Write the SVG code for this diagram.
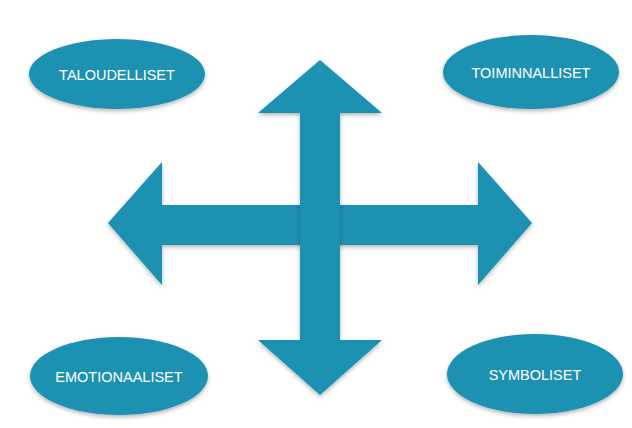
<svg xmlns="http://www.w3.org/2000/svg" width="632" height="428" viewBox="0 0 632 428">
<defs>
<filter id="sh" x="-10%" y="-10%" width="120%" height="130%">
<feDropShadow dx="0" dy="2" stdDeviation="2" flood-color="#000" flood-opacity="0.3"/>
</filter>
<style>
.shape{fill:#1a91b1;filter:url(#sh)}
.lbl{fill:#ffffff;font-family:"Liberation Sans",Arial,sans-serif;font-size:14.5px;text-anchor:middle;dominant-baseline:central}
</style>
</defs>
<rect width="632" height="428" fill="#ffffff"/>
<g id="connectors">
<polygon class="shape" points="108,223 162,162 162,205 478,205 478,162 532,223 478,285 478,245 162,245 162,285"/>
<polygon class="shape" points="320,60 382,113 340,113 340,340 382,340 320,395 258,340 300,340 300,113 258,113"/>
</g>
<g id="taloudelliset">
<ellipse class="shape" cx="117" cy="74" rx="88" ry="35"/>
<text class="lbl" x="117" y="75">TALOUDELLISET</text>
</g>
<g id="toiminnalliset">
<ellipse class="shape" cx="531" cy="72" rx="88" ry="37"/>
<text class="lbl" x="531" y="73">TOIMINNALLISET</text>
</g>
<g id="emotionaaliset">
<ellipse class="shape" cx="119" cy="376" rx="89" ry="39"/>
<text class="lbl" x="119" y="377">EMOTIONAALISET</text>
</g>
<g id="symboliset">
<ellipse class="shape" cx="535" cy="374" rx="88" ry="40"/>
<text class="lbl" x="535" y="375">SYMBOLISET</text>
</g>
</svg>
